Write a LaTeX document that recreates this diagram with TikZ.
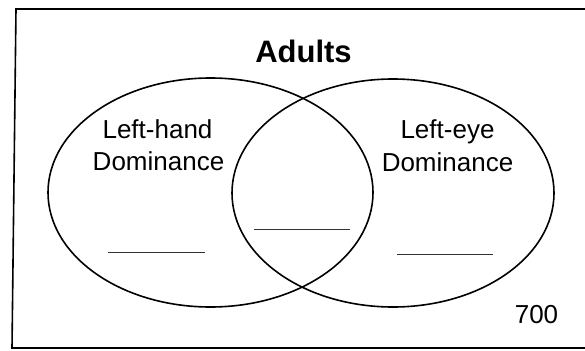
\documentclass[tikz,border=0pt]{standalone}
\usepackage{fontspec}
\setmainfont{Liberation Sans}
\usetikzlibrary{shapes.geometric}
\begin{document}
\begin{tikzpicture}[x=1pt,y=-1pt,
  set/.style={draw=black,line width=1.6pt,ellipse,inner sep=0pt,outer sep=0pt},
  lbl/.style={font=\fontsize{26}{32}\selectfont,inner sep=0pt,anchor=base},
  blank/.style={draw=black!80,line width=0.9pt},
  frame/.style={draw=black,line width=1.6pt}]
\useasboundingbox (0,0) rectangle (585,350);
% frame
\coordinate (tl) at (16,9);
\coordinate (tr) at (586,9);
\coordinate (bl) at (12,348);
\coordinate (br) at (586,348);
\draw[frame] (tr) -- (tl) -- (bl) -- (br);
% sets
\node[set,minimum width=325pt,minimum height=229pt] (L) at (210.5,192.5) {};
\node[set,minimum width=322pt,minimum height=228pt] (R) at (393,193) {};
% title
\node[inner sep=0pt,anchor=base,font=\fontsize{31}{36}\selectfont\bfseries] (title) at (303.5,63) {Adults};
% labels
\node[lbl] (lh) at (157.5,138) {Left-hand};
\node[lbl] (ld) at (158.5,170) {Dominance};
\node[lbl] (re) at (447.5,138) {Left-eye};
\node[lbl] (rd) at (447.5,171) {Dominance};
\node[lbl] (total) at (536.5,323) {700};
% blanks
\coordinate (b1a) at (108,252); \coordinate (b1b) at (205,252);
\coordinate (b2a) at (254,229); \coordinate (b2b) at (350,229);
\coordinate (b3a) at (397,254); \coordinate (b3b) at (493,254);
\draw[blank] (b1a) -- (b1b);
\draw[blank] (b2a) -- (b2b);
\draw[blank] (b3a) -- (b3b);
\end{tikzpicture}
\end{document}
